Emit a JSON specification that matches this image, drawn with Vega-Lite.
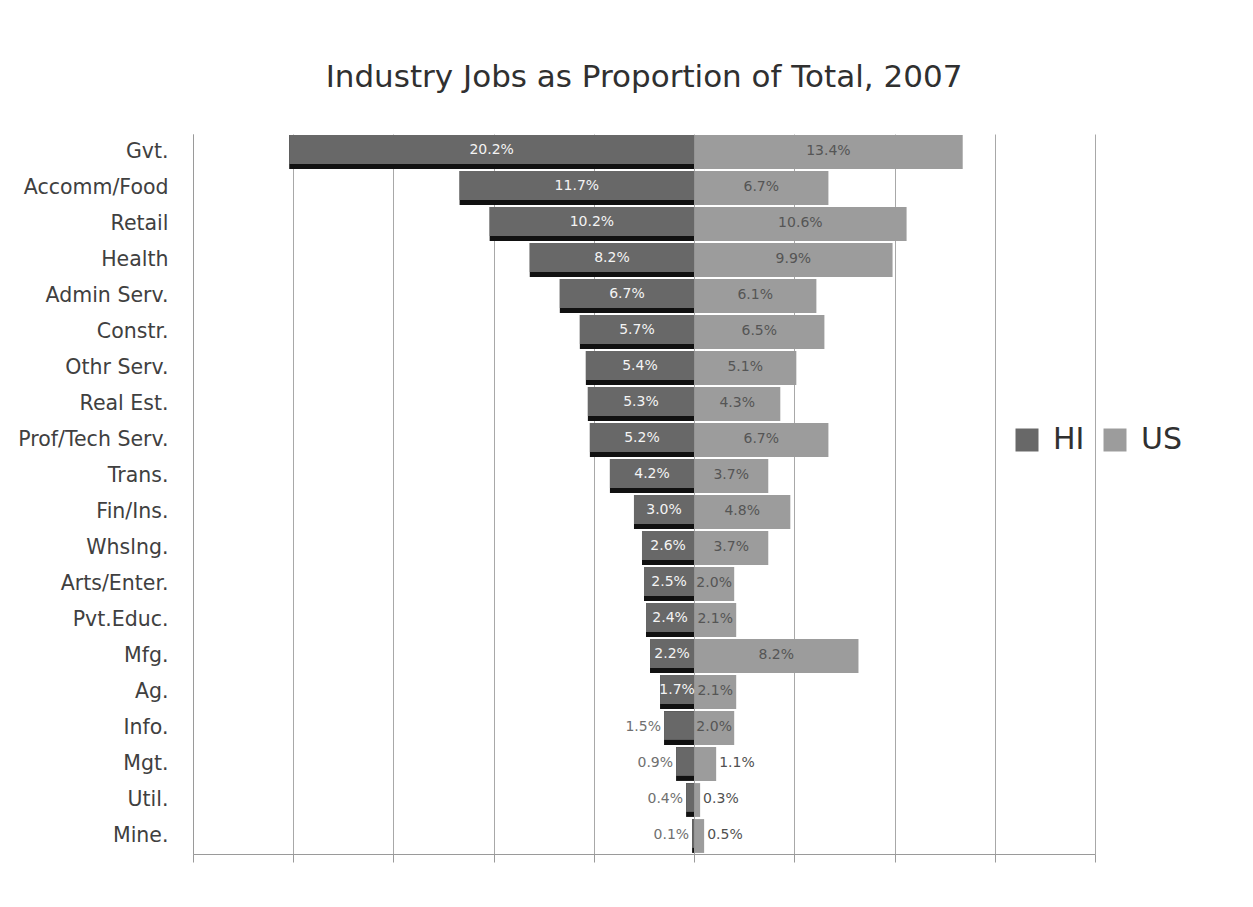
{
  "$schema": "https://vega.github.io/schema/vega-lite/v6.json",
  "width": 902,
  "height": 720,
  "autosize": {"type": "none"},
  "padding": {"left": 193, "top": 134, "right": 158, "bottom": 53},
  "background": "white",
  "config": {"view": {"stroke": null}, "font": "DejaVu Sans"},
  "title": {"text": "Industry Jobs as Proportion of Total, 2007", "fontSize": 31, "fontWeight": "normal", "color": "#303030", "anchor": "middle", "offset": 40, "font": "DejaVu Sans"},
  "data": {"values": [
    {"industry": "Gvt.", "region": "HI", "value": 0.202}, {"industry": "Gvt.", "region": "US", "value": 0.134},
    {"industry": "Accomm/Food", "region": "HI", "value": 0.117}, {"industry": "Accomm/Food", "region": "US", "value": 0.067},
    {"industry": "Retail", "region": "HI", "value": 0.102}, {"industry": "Retail", "region": "US", "value": 0.106},
    {"industry": "Health", "region": "HI", "value": 0.082}, {"industry": "Health", "region": "US", "value": 0.099},
    {"industry": "Admin Serv.", "region": "HI", "value": 0.067}, {"industry": "Admin Serv.", "region": "US", "value": 0.061},
    {"industry": "Constr.", "region": "HI", "value": 0.057}, {"industry": "Constr.", "region": "US", "value": 0.065},
    {"industry": "Othr Serv.", "region": "HI", "value": 0.054}, {"industry": "Othr Serv.", "region": "US", "value": 0.051},
    {"industry": "Real Est.", "region": "HI", "value": 0.053}, {"industry": "Real Est.", "region": "US", "value": 0.043},
    {"industry": "Prof/Tech Serv.", "region": "HI", "value": 0.052}, {"industry": "Prof/Tech Serv.", "region": "US", "value": 0.067},
    {"industry": "Trans.", "region": "HI", "value": 0.042}, {"industry": "Trans.", "region": "US", "value": 0.037},
    {"industry": "Fin/Ins.", "region": "HI", "value": 0.030}, {"industry": "Fin/Ins.", "region": "US", "value": 0.048},
    {"industry": "Whslng.", "region": "HI", "value": 0.026}, {"industry": "Whslng.", "region": "US", "value": 0.037},
    {"industry": "Arts/Enter.", "region": "HI", "value": 0.025}, {"industry": "Arts/Enter.", "region": "US", "value": 0.020},
    {"industry": "Pvt.Educ.", "region": "HI", "value": 0.024}, {"industry": "Pvt.Educ.", "region": "US", "value": 0.021},
    {"industry": "Mfg.", "region": "HI", "value": 0.022}, {"industry": "Mfg.", "region": "US", "value": 0.082},
    {"industry": "Ag.", "region": "HI", "value": 0.017}, {"industry": "Ag.", "region": "US", "value": 0.021},
    {"industry": "Info.", "region": "HI", "value": 0.015}, {"industry": "Info.", "region": "US", "value": 0.020},
    {"industry": "Mgt.", "region": "HI", "value": 0.009}, {"industry": "Mgt.", "region": "US", "value": 0.011},
    {"industry": "Util.", "region": "HI", "value": 0.004}, {"industry": "Util.", "region": "US", "value": 0.003},
    {"industry": "Mine.", "region": "HI", "value": 0.001}, {"industry": "Mine.", "region": "US", "value": 0.005}
  ]},
  "transform": [
    {"calculate": "datum.region === 'HI' ? -datum.value : datum.value", "as": "signed"},
    {"calculate": "datum.signed / 2", "as": "mid"}
  ],
  "encoding": {
    "y": {"field": "industry", "type": "nominal", "sort": null, "title": null,
      "scale": {"paddingInner": 0.06, "paddingOuter": 0.03},
      "axis": {"ticks": false, "labelFontSize": 20.5, "labelColor": "#404040", "labelPadding": 25, "domainColor": "#9a9a9a", "labelFont": "DejaVu Sans"}}
  },
  "layer": [
    {
      "transform": [{"filter": "datum.region === 'HI'"}],
      "mark": {"type": "bar", "color": "#111111"},
      "encoding": {
        "x": {"field": "signed", "type": "quantitative",
          "scale": {"domain": [-0.25, 0.2], "nice": false, "zero": false},
          "axis": {"values": [-0.25, -0.2, -0.15, -0.1, -0.05, 0, 0.05, 0.1, 0.15, 0.2], "labels": false, "title": null, "grid": true, "gridColor": "#a8a8a8", "gridWidth": 1, "domainColor": "#9a9a9a", "tickColor": "#9a9a9a", "tickSize": 8}}
      }
    },
    {
      "transform": [{"filter": "datum.region === 'US'"}],
      "mark": {"type": "bar"},
      "encoding": {
        "x": {"field": "signed", "type": "quantitative"},
        "color": {"field": "region", "type": "nominal"}
      }
    },
    {
      "transform": [{"filter": "datum.region === 'HI'"}],
      "mark": {"type": "bar", "height": {"band": 0.85}, "yOffset": -2.5},
      "encoding": {
        "x": {"field": "signed", "type": "quantitative"},
        "color": {"field": "region", "type": "nominal",
          "scale": {"domain": ["HI", "US"], "range": ["#686868", "#9c9c9c"]},
          "legend": {"orient": "none", "legendX": 819, "legendY": 291, "direction": "horizontal", "title": null,
            "symbolType": "square", "symbolSize": 529, "symbolStrokeWidth": 0, "symbolOpacity": 1,
            "labelFontSize": 30, "labelColor": "#303030", "labelFont": "DejaVu Sans", "labelOffset": 11, "columnPadding": 15}}
      }
    },
    {
      "transform": [{"filter": "datum.region === 'HI' && datum.value >= 0.016"}],
      "mark": {"type": "text", "color": "#f4f4f4", "fontSize": 14, "font": "DejaVu Sans", "yOffset": -2},
      "encoding": {
        "x": {"field": "mid", "type": "quantitative"},
        "text": {"field": "value", "type": "quantitative", "format": ".1%"}
      }
    },
    {
      "transform": [{"filter": "datum.region === 'US' && datum.value >= 0.015"}],
      "mark": {"type": "text", "color": "#555555", "fontSize": 14, "font": "DejaVu Sans", "yOffset": -1},
      "encoding": {
        "x": {"field": "mid", "type": "quantitative"},
        "text": {"field": "value", "type": "quantitative", "format": ".1%"}
      }
    },
    {
      "transform": [{"filter": "datum.region === 'HI' && datum.value < 0.016"}],
      "mark": {"type": "text", "color": "#707070", "fontSize": 14, "font": "DejaVu Sans", "align": "right", "dx": -3, "yOffset": -1},
      "encoding": {
        "x": {"field": "signed", "type": "quantitative"},
        "text": {"field": "value", "type": "quantitative", "format": ".1%"}
      }
    },
    {
      "transform": [{"filter": "datum.region === 'US' && datum.value < 0.015"}],
      "mark": {"type": "text", "color": "#505050", "fontSize": 14, "font": "DejaVu Sans", "align": "left", "dx": 3, "yOffset": -1},
      "encoding": {
        "x": {"field": "signed", "type": "quantitative"},
        "text": {"field": "value", "type": "quantitative", "format": ".1%"}
      }
    }
  ]
}
